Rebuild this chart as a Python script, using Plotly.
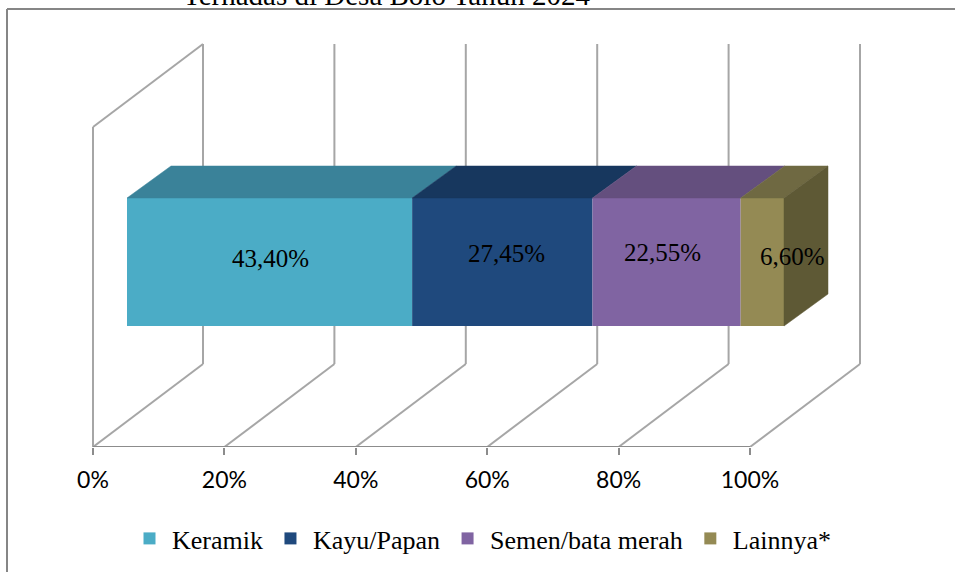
import plotly.graph_objects as go

categories = ["Keramik", "Kayu/Papan", "Semen/bata merah", "Lainnya*"]
values = [43.40, 27.45, 22.55, 6.60]
value_labels = ["43,40%", "27,45%", "22,55%", "6,60%"]
front_colors = ["#4BACC6", "#1F497D", "#8064A2", "#948A54"]
top_colors = ["#3A8299", "#17375E", "#644F7E", "#6F6942"]
side_color = "#5E5935"
tick_vals = [0, 20, 40, 60, 80, 100]
tick_text = ["0%", "20%", "40%", "60%", "80%", "100%"]
cut_title = "Terhadas di Desa Bolo Tahun 2024"

W, H = 955, 572
L, R, T, B = 83, 93, 0, 125
UX = 6.57                       # pixels per percent on the value axis
wall_dx, wall_dy = 110 / UX, 83 # depth of the 3D box
wall_h = 320
bar_dx = 34 / UX                # shift of the bar inside the box
bar_y0, bar_h = 121, 128
box_dx, box_dy = 44 / UX, 32    # depth of the bar
GRID = "#A6A6A6"
AXIS = "#8C8C8C"
SERIF = "Liberation Serif"

x_min = -10 / UX
x_max = x_min + (W - L - R) / UX

fig = go.Figure()

# front faces
start = bar_dx
starts = []
for name, v, c in zip(categories, values, front_colors):
    starts.append(start)
    fig.add_trace(go.Bar(
        y=[bar_y0 + bar_h / 2], x=[v], base=[start], width=[bar_h],
        orientation="h", name=name, marker=dict(color=c, line=dict(width=0)),
        hoverinfo="name",
    ))
    start += v

# top faces
y_top = bar_y0 + bar_h
for s, v, c in zip(starts, values, top_colors):
    fig.add_trace(go.Scatter(
        x=[s, s + v, s + v + box_dx, s + box_dx, s],
        y=[y_top, y_top, y_top + box_dy, y_top + box_dy, y_top],
        mode="lines", fill="toself", fillcolor=c,
        line=dict(color=c, width=0.5), showlegend=False, hoverinfo="skip",
    ))

# right side of the last segment
x_end = starts[-1] + values[-1]
fig.add_trace(go.Scatter(
    x=[x_end, x_end + box_dx, x_end + box_dx, x_end, x_end],
    y=[bar_y0, bar_y0 + box_dy, y_top + box_dy, y_top, bar_y0],
    mode="lines", fill="toself", fillcolor=side_color,
    line=dict(color=side_color, width=0.5), showlegend=False, hoverinfo="skip",
))

# axis base line
fig.add_trace(go.Scatter(
    x=[tick_vals[0], tick_vals[-1]], y=[0, 0], mode="lines",
    line=dict(color=AXIS, width=2), showlegend=False, hoverinfo="skip",
    cliponaxis=False,
))

# walls and gridlines of the 3D box
shapes = []
for t in tick_vals:
    shapes.append(dict(type="line", xref="x", yref="y", layer="below",
                       x0=t, y0=0, x1=t + wall_dx, y1=wall_dy,
                       line=dict(color=GRID, width=2)))
    shapes.append(dict(type="line", xref="x", yref="y", layer="below",
                       x0=t + wall_dx, y0=wall_dy, x1=t + wall_dx, y1=wall_dy + wall_h,
                       line=dict(color=GRID, width=2)))
shapes.append(dict(type="line", xref="x", yref="y", layer="below",
                   x0=0, y0=0, x1=0, y1=wall_h, line=dict(color=GRID, width=2)))
shapes.append(dict(type="line", xref="x", yref="y", layer="below",
                   x0=0, y0=wall_h, x1=wall_dx, y1=wall_h + wall_dy,
                   line=dict(color=GRID, width=2)))

# page frame around the chart
PW, PH = W - L - R, H - T - B
def px(p): return (p - L) / PW
def py(p): return 1 - (p - T) / PH
FRAME = "#868686"
shapes.append(dict(type="line", xref="paper", yref="paper", x0=px(7), y0=py(9),
                   x1=px(955), y1=py(9), line=dict(color=FRAME, width=2)))
shapes.append(dict(type="line", xref="paper", yref="paper", x0=px(7), y0=py(9),
                   x1=px(7), y1=py(572), line=dict(color=FRAME, width=2)))

# value labels: nudged the way they sit in the source
label_nudge = [(1, 4), (4, 9), (-4, 10), (30, 6)]
annotations = []
for s, v, lab, (nx, ny) in zip(starts, values, value_labels, label_nudge):
    annotations.append(dict(
        x=s + v / 2 + nx / UX, y=bar_y0 + bar_h / 2 + ny,
        xref="x", yref="y", text=lab, showarrow=False,
        font=dict(family=SERIF, size=25, color="#000000"),
    ))
annotations.append(dict(
    x=px(386), y=py(-5), xref="paper", yref="paper",
    text=cut_title, showarrow=False, xanchor="center", yanchor="middle",
    font=dict(family=SERIF, size=29, color="#000000"),
))

fig.update_layout(
    width=W, height=H, margin=dict(l=L, r=R, t=T, b=B, pad=0, autoexpand=False),
    paper_bgcolor="white", plot_bgcolor="white",
    barmode="overlay", shapes=shapes, annotations=annotations,
    xaxis=dict(range=[x_min, x_max], tickmode="array", tickvals=tick_vals,
               ticktext=tick_text, ticks="outside", ticklen=7, tickwidth=2,
               tickcolor=AXIS, showgrid=False, zeroline=False, showline=False,
               ticklabelstandoff=5,
               tickfont=dict(family="Lato", size=23, color="#000000")),
    yaxis=dict(range=[0, H - B], visible=False, fixedrange=True),
    legend=dict(orientation="h", xref="container", yref="container",
                x=127 / W, y=1 - 515 / H, xanchor="left", yanchor="top",
                itemwidth=35,
                font=dict(family=SERIF, size=26, color="#000000"),
                traceorder="normal", bgcolor="rgba(0,0,0,0)"),
    showlegend=True,
)

fig.write_html("out.html", config={"displayModeBar": False},
               post_script="document.body.style.margin='0';")
